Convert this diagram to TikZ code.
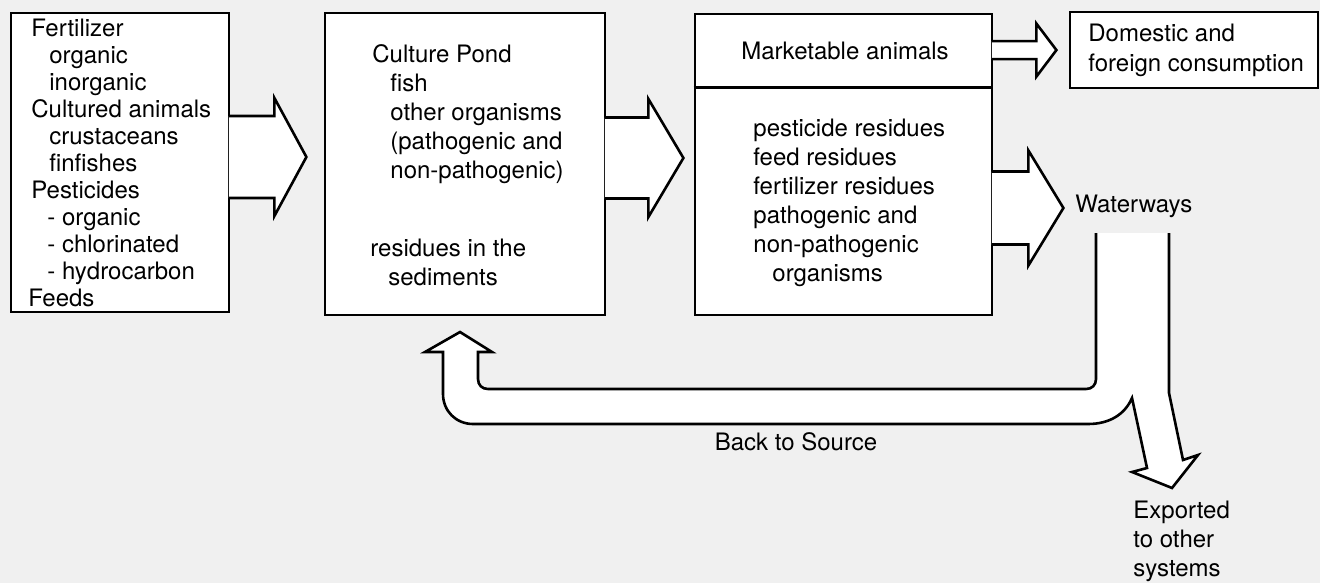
\documentclass[tikz,border=0pt]{standalone}
\usepackage{fontspec}
\setmainfont{TeX Gyre Heros}
\usetikzlibrary{calc}
% block arrow out of a box: anchor, y offset, shaft half, head half, shaft length, head length
\newcommand{\fatarrow}[6]{\draw[blockarrow] ($(#1)+(-1.5,#2-#3)$) -- ++(#5+1.5,0)
  -- ++(0,#3-#4) -- ++(#6,#4) -- ++(-#6,#4) -- ++(0,#3-#4) -- ++(-#5-1.5,0);}

\begin{document}
\begin{tikzpicture}[x=0.5pt,y=-0.5pt, every node/.style={font=\fontsize{12}{14.5}\selectfont,inner sep=0pt},
  box/.style={draw,line width=1.4pt,fill=white},
  blockarrow/.style={draw,fill=white,line width=1.3pt,line join=miter},
  txt/.style={anchor=north west,align=left}]
\fill[gray!12] (0,0) rectangle (1320,583);
\useasboundingbox (0,0) rectangle (1320,583);
% boxes
\node[box,minimum width=109pt,minimum height=149.5pt] (inputs) at (120,162.5) {};
\node[box,minimum width=140pt,minimum height=151pt] (pond) at (465,164) {};
\node[box,minimum width=148.5pt,minimum height=150.5pt] (outputs) at (843.5,164.5) {};
\node[box,minimum width=124pt,minimum height=38pt] (consumption) at (1194,50) {};
\draw[line width=1.4pt] ($(outputs.north west)+(0,75)$) -- ($(outputs.north east)+(0,75)$);
% arrows between boxes
\fatarrow{inputs.east}{-5.5}{41}{59}{44}{32}
\fatarrow{pond.east}{-6}{40.5}{59}{42}{35}
\fatarrow{outputs.north east}{37.5}{9}{26.5}{43}{20}
\fatarrow{outputs.east}{43.5}{36.5}{57.5}{35}{35}
% waterways: back to source and exported
\draw[blockarrow] (1169,233) -- (1169,393) -- (1183,460) -- (1198,455) -- (1172,488)
  -- (1132,472) -- (1147,468) -- (1132,398) .. controls (1125,414) and (1110,424) .. (1088,424)
  -- (473,424) .. controls (456,424) and (443,411) .. (443,394) -- (443,352) -- (425,352)
  -- (460,332) -- (492,352) -- (478,352) -- (478,379) .. controls (478,385) and (482,389) .. (488,389)
  -- (1086,389) .. controls (1092,389) and (1096,385) .. (1096,379) -- (1096,233);
% texts
\node[txt,font=\fontsize{12}{13.5}\selectfont] (inputlist) at (31,19) {Fertilizer\\\hspace{9pt}organic\\
  \hspace{9pt}inorganic\\Cultured animals\\\hspace{9pt}crustaceans\\\hspace{9pt}finfishes\\Pesticides\\
  \hspace{8pt}- organic\\\hspace{8pt}- chlorinated\\\hspace{8pt}- hydrocarbon\\\hspace{-1.5pt}Feeds};
\node[txt] (pondlist) at (372,44) {Culture Pond\\\hspace{9pt}fish\\\hspace{9pt}other organisms\\
  \hspace{9pt}(pathogenic and\\\hspace{9pt}non-pathogenic)};
\node[txt] (sediments) at (370,239) {residues in the\\\hspace{9pt}sediments};
\node (market) at ($(outputs.north)+(1.5,38)$) {Marketable animals};
\node[txt] (residues) at (753,119) {pesticide residues\\feed residues\\fertilizer residues\\
  pathogenic and\\non-pathogenic\\\hspace{9.5pt}organisms};
\node[txt,font=\fontsize{12}{15}\selectfont] (domestic) at (1088,24) {Domestic and\\foreign consumption};
\node[anchor=west] (waterways) at (1075,206) {Waterways};
\node (backsource) at (796,442) {Back to Source};
\node[txt] (exported) at (1133,501) {Exported\\to other\\systems};
\end{tikzpicture}
\end{document}
